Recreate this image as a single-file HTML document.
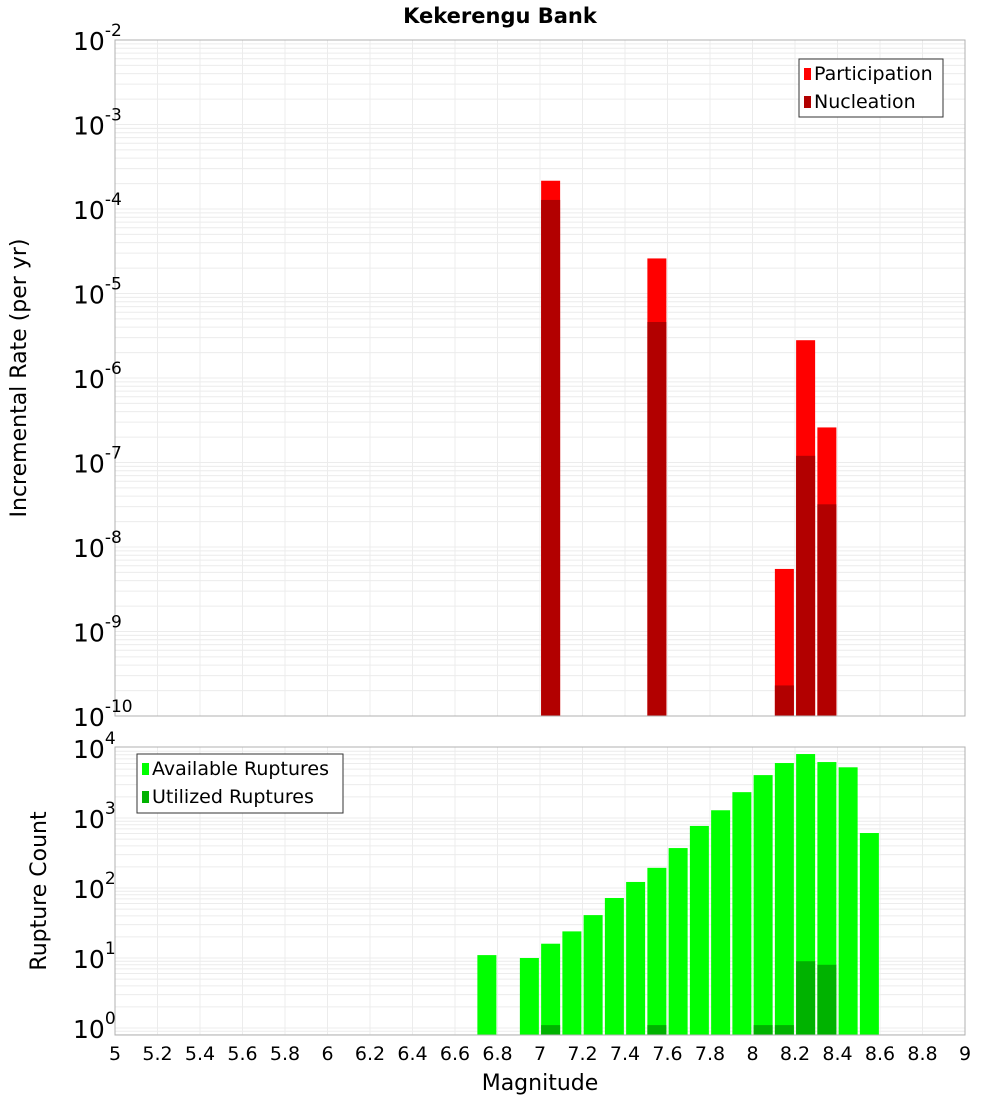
<!DOCTYPE html>
<html><head><meta charset="utf-8"><style>
body{margin:0;background:#fff;}
svg{display:block;font-family:"DejaVu Sans","Liberation Sans",sans-serif;}
</style></head><body>
<svg id="c" width="1000" height="1100" viewBox="0 0 1000 1100"></svg>
<script>
const mags=[7.05,7.55,8.15,8.25,8.35];
const participation=[2.16e-4,2.6e-5,5.5e-9,2.8e-6,2.6e-7];
const nucleation=[1.28e-4,4.6e-6,2.3e-10,1.2e-7,3.2e-8];
const countMags=[6.75,6.95,7.05,7.15,7.25,7.35,7.45,7.55,7.65,7.75,7.85,7.95,8.05,8.15,8.25,8.35,8.45,8.55];
const available=[11,10,16,24,41,72,122,194,372,770,1290,2340,4100,6100,8200,6300,5300,610];
const utilMags=[7.05,7.55,8.05,8.15,8.25,8.35];
const utilized=[1.1,1.1,1.1,1.1,9,8];
const xTicks=["5","5.2","5.4","5.6","5.8","6","6.2","6.4","6.6","6.8","7","7.2","7.4","7.6","7.8","8","8.2","8.4","8.6","8.8","9"];
const topExp=[-2,-3,-4,-5,-6,-7,-8,-9,-10];
const botExp=[4,3,2,1,0];

const NS="http://www.w3.org/2000/svg";
const svg=document.getElementById('c');
function el(t,a,p){const e=document.createElementNS(NS,t);for(const k in a)e.setAttribute(k,a[k]);(p||svg).appendChild(e);return e;}
const X0=115,X1=965;
const x=m=>X0+(m-5)*(X1-X0)/4;
const T0=40,T1=716;
const yT=v=>T0+(-2-Math.log10(v))*(T1-T0)/8;
const B0=747,B1=1035;
const yB=v=>748+(4-Math.log10(v))*70;

function grid(top,bot,yf,emin,emax){
  for(let e=emin;e<emax;e++)for(let k=1;k<10;k++){const y=yf(k*Math.pow(10,e));if(y<top-0.5||y>bot+0.5)continue;
    const l=el('line',{x1:X0,x2:X1,y1:y,y2:y,stroke:'#ececec','stroke-width':1});
    }
  xTicks.forEach(t=>{const xx=x(+t);const l=el('line',{x1:xx,x2:xx,y1:top,y2:bot,stroke:'#ececec','stroke-width':1});
    });
}
grid(T0,T1,yT,-10,-2);
grid(B0,B1,yB,-1,4);

const bw=19;
mags.forEach((m,i)=>{
  const r=el('rect',{x:x(m)-bw/2,y:yT(participation[i]),width:bw,height:T1-yT(participation[i]),fill:'#ff0000'});
  
  const n=el('rect',{x:x(m)-bw/2,y:yT(nucleation[i]),width:bw,height:T1-yT(nucleation[i]),fill:'#b20000'});
  
});
countMags.forEach((m,i)=>{
  const r=el('rect',{x:x(m)-bw/2,y:yB(available[i]),width:bw,height:B1-yB(available[i]),fill:'#00ff00'});
  
});
utilMags.forEach((m,i)=>{
  const r=el('rect',{x:x(m)-bw/2,y:yB(utilized[i]),width:bw,height:B1-yB(utilized[i]),fill:'#00b200'});
  
});

const f1=el('rect',{x:X0,y:T0,width:X1-X0,height:T1-T0,fill:'none',stroke:'#b0b0b0'});

const f2=el('rect',{x:X0,y:B0,width:X1-X0,height:B1-B0,fill:'none',stroke:'#b0b0b0'});


function pow(e,y,name){
  const t=el('text',{x:73,y:y+10,'font-size':25,fill:'#000'});t.textContent='10';
  
  const s=el('tspan',{dy:-14,'font-size':17},t);s.textContent=String(e);
}
topExp.forEach(e=>pow(e,yT(Math.pow(10,e)),'y-tick-label'));
botExp.forEach(e=>pow(e,yB(Math.pow(10,e)),'y-tick-label'));
xTicks.forEach(t=>{const tx=el('text',{x:x(+t),y:1060,'font-size':19,'text-anchor':'middle'});tx.textContent=t;
  });

const title=el('text',{x:500,y:23,'font-size':21,'font-weight':'bold','text-anchor':'middle'});title.textContent='Kekerengu Bank';

const xt=el('text',{x:540,y:1090,'font-size':22,'text-anchor':'middle'});xt.textContent='Magnitude';

const yt1=el('text',{x:0,y:0,'font-size':22,'text-anchor':'middle',transform:'translate(26,378) rotate(-90)'});yt1.textContent='Incremental Rate (per yr)';

const yt2=el('text',{x:0,y:0,'font-size':22,'text-anchor':'middle',transform:'translate(46,891) rotate(-90)'});yt2.textContent='Rupture Count';


function legend(x0,y0,w,h,items,name){
  const g=el('g',{});
  el('rect',{x:x0,y:y0,width:w,height:h,fill:'#fff',stroke:'#333'},g);
  items.forEach((it,i)=>{
    const sw=el('rect',{x:x0+5,y:y0+9+i*28,width:7,height:12,fill:it[1]},g);
    
    const t=el('text',{x:x0+15,y:y0+21+i*28,'font-size':19},g);t.textContent=it[0];
    
  });
}
legend(799,59,144,58,[['Participation','#ff0000'],['Nucleation','#b20000']],'top-legend');
legend(137,754,206,59,[['Available Ruptures','#00ff00'],['Utilized Ruptures','#00b200']],'bottom-legend');
</script>
</body></html>
